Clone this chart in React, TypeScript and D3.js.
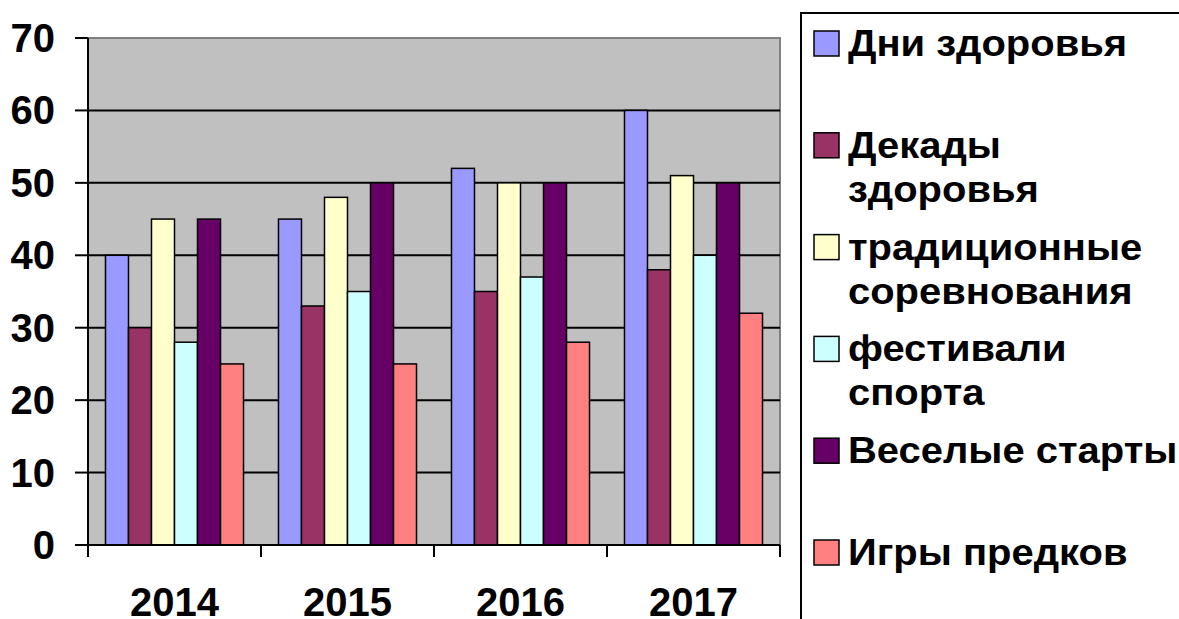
import React from 'react';
import * as d3 from 'd3';

const years = ['2014', '2015', '2016', '2017'];
const seriesNames = [
  ['Дни здоровья'],
  ['Декады', 'здоровья'],
  ['традиционные', 'соревнования'],
  ['фестивали', 'спорта'],
  ['Веселые старты'],
  ['Игры предков'],
];
const seriesColors = ['#9999FF', '#993366', '#FFFFCC', '#CCFFFF', '#660066', '#FF8080'];
const dniZdorovya = [40, 45, 52, 60];
const dekady = [30, 33, 35, 38];
const tradicionnye = [45, 48, 50, 51];
const festivali = [28, 35, 37, 40];
const veselye = [45, 50, 50, 50];
const igry = [25, 25, 28, 32];
const yTicks = [0, 10, 20, 30, 40, 50, 60, 70];

const series = [dniZdorovya, dekady, tradicionnye, festivali, veselye, igry];

const W = 1179;
const H = 619;
const plot = { left: 88, right: 780, top: 38, bottom: 545 };
const font = '"Liberation Sans", Arial, sans-serif';

const App: React.FC = () => {
  const x = d3.scaleBand<string>().domain(years).range([plot.left, plot.right]).paddingInner(0).paddingOuter(0);
  const inner = d3
    .scaleBand<number>()
    .domain(d3.range(series.length))
    .range([0, x.bandwidth()])
    .paddingOuter(0.76)
    .paddingInner(0);
  const y = d3.scaleLinear().domain([0, 70]).range([plot.bottom, plot.top]);

  const legendTop = 56;
  const legendStep = 101.8;
  const lineH = 44;

  return (
    <svg width={W} height={H} style={{ position: 'absolute', left: 0, top: 0, background: '#fff' }} fontFamily={font}>
      <rect x={plot.left} y={plot.top} width={plot.right - plot.left} height={plot.bottom - plot.top} fill="#C0C0C0" />
      {/* gray border top / right */}
      <path
        d={`M${plot.left},${plot.top}H${plot.right}V${plot.bottom}`}
        fill="none"
        stroke="#808080"
        strokeWidth={2}
      />
      {/* gridlines */}
      {yTicks.slice(1, -1).map((t) => (
        <line key={t} x1={plot.left} x2={plot.right} y1={y(t)} y2={y(t)} stroke="#000" strokeWidth={2} />
      ))}
      {/* bars */}
      {years.map((yr, i) => (
        <g key={yr}>
          {series.map((s, j) => (
            <rect
              key={j}
              x={(x(yr) as number) + (inner(j) as number)}
              y={y(s[i])}
              width={inner.bandwidth()}
              height={plot.bottom - y(s[i])}
              fill={seriesColors[j]}
              stroke="#000"
              strokeWidth={1.5}
            />
          ))}
        </g>
      ))}
      {/* axes */}
      <line x1={plot.left} x2={plot.left} y1={plot.top} y2={plot.bottom} stroke="#000" strokeWidth={2} />
      <line x1={plot.left - 1} x2={plot.right} y1={plot.bottom} y2={plot.bottom} stroke="#000" strokeWidth={2} />
      {yTicks.map((t) => (
        <g key={t}>
          <line x1={plot.left - 13} x2={plot.left} y1={y(t)} y2={y(t)} stroke="#000" strokeWidth={2} />
          <text x={55} y={y(t) + 14} textAnchor="end" fontSize={40} fontWeight="bold">
            {t}
          </text>
        </g>
      ))}
      {years.map((yr) => (
        <line key={yr} x1={x(yr)} x2={x(yr)} y1={plot.bottom} y2={plot.bottom + 12} stroke="#000" strokeWidth={2} />
      ))}
      <line x1={plot.right} x2={plot.right} y1={plot.bottom} y2={plot.bottom + 12} stroke="#000" strokeWidth={2} />
      {years.map((yr) => (
        <text
          key={yr}
          x={(x(yr) as number) + x.bandwidth() / 2}
          y={616}
          textAnchor="middle"
          fontSize={40}
          fontWeight="bold"
        >
          {yr}
        </text>
      ))}
      {/* legend */}
      <rect x={801} y={13} width={420} height={640} fill="none" stroke="#000" strokeWidth={2} />
      {seriesNames.map((lines, j) => {
        const base = legendTop + j * legendStep;
        return (
          <g key={j}>
            <rect x={814} y={base - 25} width={25} height={25} fill={seriesColors[j]} stroke="#000" strokeWidth={1.5} />
            {lines.map((ln, k) => (
              <text
                key={k}
                transform={`translate(848,${base + k * lineH}) scale(1.08,1)`}
                fontSize={37}
                fontWeight="bold"
              >
                {ln}
              </text>
            ))}
          </g>
        );
      })}
    </svg>
  );
};

export default App;
